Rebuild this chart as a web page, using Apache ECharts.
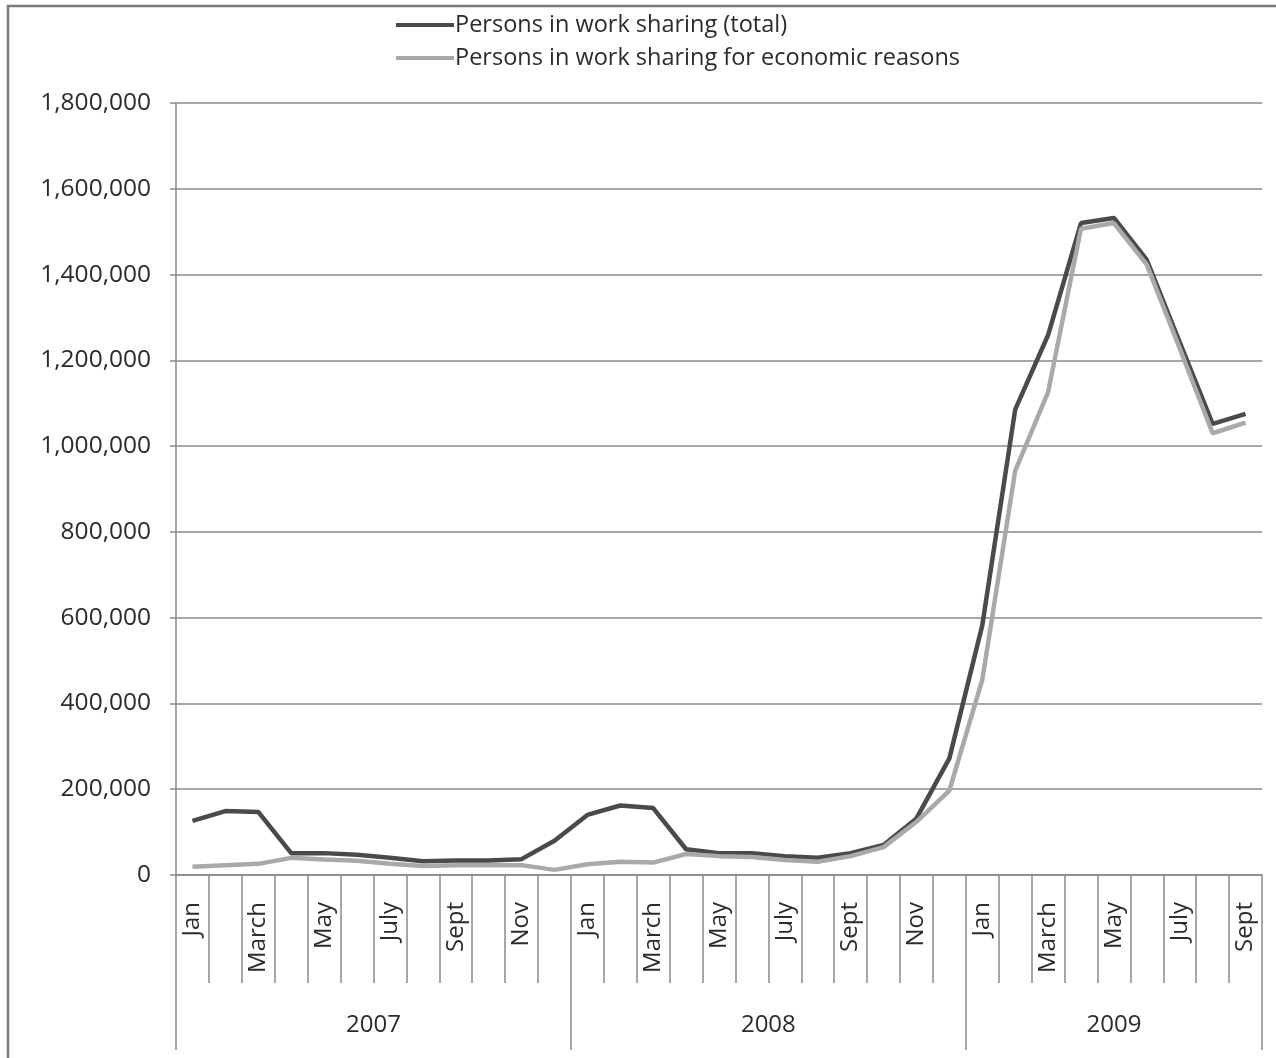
<!DOCTYPE html>
<html>
<head>
<meta charset="utf-8">
<script src="https://cdn.jsdelivr.net/npm/echarts@6/dist/echarts.min.js"></script>
<style>
  html, body { margin: 0; padding: 0; background: #fff; }
  #chart { width: 1276px; height: 1058px; }
</style>
</head>
<body>
<div id="chart"></div>
<script>
// Monthly categories, January 2007 to September 2009
const monthNames = ['Jan', 'Feb', 'March', 'April', 'May', 'June', 'July', 'Aug', 'Sept', 'Oct', 'Nov', 'Dec'];
const years = ['2007', '2008', '2009'];
const monthsPerYear = [12, 12, 9];

// Persons in work sharing (total)
const totalWorkers = [
  126000, 149000, 147000, 51000, 51000, 47000, 40000, 32000, 34000, 34000, 37000, 80000,
  140000, 162000, 156000, 60000, 51000, 51000, 44000, 40000, 51000, 70000, 132000, 272000,
  582000, 1085000, 1259000, 1520000, 1532000, 1434000, 1242000, 1052000, 1075000
];

// Persons in work sharing for economic reasons
const economicWorkers = [
  19000, 23000, 26000, 40000, 36000, 33000, 26000, 21000, 23000, 23000, 23000, 12000,
  25000, 31000, 29000, 49000, 44000, 42000, 35000, 31000, 44000, 65000, 124000, 197000,
  455000, 942000, 1126000, 1507000, 1520000, 1423000, 1228000, 1030000, 1055000
];

// Y axis scale
const yMin = 0, yMax = 1800000, yStep = 200000;

// Build the month list and the year group boundaries
const months = [];
const yearBounds = [0];
monthsPerYear.forEach((n, i) => {
  for (let m = 0; m < n; m++) months.push(monthNames[m]);
  yearBounds.push(yearBounds[i] + n);
});
const yearCenters = years.map((_, i) => (yearBounds[i] + yearBounds[i + 1]) / 2);

const FONT = '"Open Sans", "Liberation Sans", sans-serif';
const TEXT = '#2b2b2b';
const LINE = '#8a8a8a';

const chart = echarts.init(document.getElementById('chart'), null, { renderer: 'canvas' });
chart.setOption({
  backgroundColor: '#ffffff',
  animation: false,
  textStyle: { fontFamily: FONT },
  graphic: [{
    type: 'rect',
    silent: true,
    shape: { x: 8, y: 6, width: 1320, height: 1120 },
    style: { fill: 'none', stroke: '#7a7a7a', lineWidth: 2.5 }
  }],
  legend: {
    orient: 'vertical',
    left: 391,
    top: 5,
    icon: 'rect',
    itemWidth: 58,
    itemHeight: 4,
    itemGap: 3,
    textStyle: { fontFamily: FONT, fontSize: 23.5, color: TEXT, lineHeight: 30, padding: [0, 0, 0, -4] },
    data: ['Persons in work sharing (total)', 'Persons in work sharing for economic reasons']
  },
  grid: { left: 176, right: 14, top: 103, bottom: 183, containLabel: false },
  xAxis: [{
    type: 'category',
    data: months,
    boundaryGap: true,
    position: 'bottom',
    axisLine: { show: true, lineStyle: { color: LINE, width: 1.5 } },
    axisTick: { show: true, interval: 0, length: 108, lineStyle: { color: LINE, width: 1.5 } },
    axisLabel: {
      interval: 1, rotate: 90, margin: 27,
      fontFamily: FONT, fontSize: 24, color: TEXT
    },
    splitLine: { show: false }
  }, {
    type: 'value',
    min: 0,
    max: yearBounds[yearBounds.length - 1],
    position: 'bottom',
    axisLine: { show: false },
    axisTick: { show: true, customValues: yearBounds, length: 175, lineStyle: { color: LINE, width: 1.5 } },
    axisLabel: {
      customValues: yearCenters,
      margin: 138,
      fontFamily: FONT, fontSize: 24, color: TEXT,
      formatter: v => years[yearCenters.indexOf(v)]
    },
    splitLine: { show: false }
  }],
  yAxis: {
    type: 'value',
    min: yMin,
    max: yMax,
    interval: yStep,
    axisLine: { show: true, lineStyle: { color: LINE, width: 1.5 } },
    axisTick: { show: true, length: 6, lineStyle: { color: LINE, width: 1.5 } },
    axisLabel: {
      margin: 25, fontFamily: FONT, fontSize: 24.5, color: TEXT,
      formatter: v => v.toLocaleString('en-US')
    },
    splitLine: { show: true, lineStyle: { color: LINE, width: 1.5 } }
  },
  series: [{
    name: 'Persons in work sharing (total)',
    type: 'line',
    xAxisIndex: 0,
    data: totalWorkers,
    symbol: 'none',
    itemStyle: { color: '#4a4a4a' },
    lineStyle: { color: '#4a4a4a', width: 4.5 }
  }, {
    name: 'Persons in work sharing for economic reasons',
    type: 'line',
    xAxisIndex: 0,
    data: economicWorkers,
    symbol: 'none',
    itemStyle: { color: '#a9a9a9' },
    lineStyle: { color: '#a9a9a9', width: 4.5 }
  }]
});
</script>
</body>
</html>
